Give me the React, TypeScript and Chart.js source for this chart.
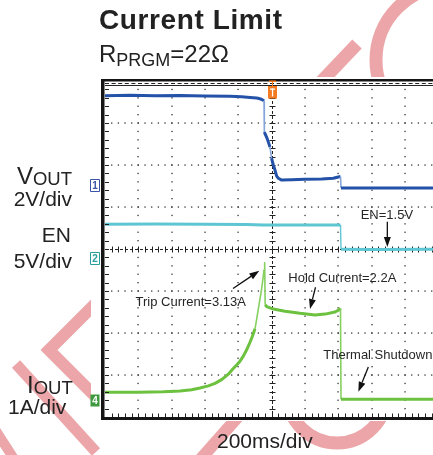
import React, { useEffect, useRef } from 'react';
import { Chart, registerables } from 'chart.js';

Chart.register(...registerables);

// ---- time base (ms), 200 ms/div, trigger at t = 0 ----
const TIME_DIV_MS = 200;
const X_MIN = -1000;
const X_MAX = 968;

// ---- VOUT (V), 2 V/div ----
const voutTime = [-1000, -850, -700, -550, -400, -250, -180, -130, -90, -65, -52, -46, -44, -28, -10, -1, 10, 20, 30, 40, 60, 120, 200, 300, 370, 400, 413, 416, 600, 800, 968];
const voutValues = [4.23, 4.25, 4.23, 4.24, 4.22, 4.2, 4.18, 4.15, 4.12, 4.07, 4.02, 3.98, 2.5, 2.21, 1.79, 1.26, 0.93, 0.69, 0.4, 0.3, 0.21, 0.23, 0.25, 0.26, 0.3, 0.36, 0.38, -0.16, -0.17, -0.16, -0.17];

// ---- EN (V), 5 V/div ----
const enTime = [-1000, -700, -400, -150, -50, 0, 200, 413, 416, 600, 968];
const enValues = [4.08, 4.1, 4.07, 4.05, 3.98, 4.0, 4.0, 4.0, 1.1, 1.08, 1.1];

// ---- IOUT (A), 1 A/div ----
const ioutTime = [-1000, -800, -650, -550, -480, -430, -380, -340, -300, -260, -232, -210, -190, -170, -150, -130, -115, -100, -88, -75, -62, -52, -46, -42, -39, -30, -10, 10, 80, 170, 260, 320, 380, 404, 413, 416, 600, 968];
const ioutValues = [0.19, 0.19, 0.2, 0.22, 0.25, 0.29, 0.34, 0.4, 0.49, 0.62, 0.75, 0.84, 0.93, 1.05, 1.2, 1.38, 1.53, 1.7, 1.98, 2.3, 2.6, 2.9, 3.1, 3.27, 2.27, 2.23, 2.2, 2.17, 2.12, 2.07, 2.03, 2.05, 2.1, 2.15, 2.19, 0.02, 0.02, 0.02];

// ---- annotation labels (data units of their channel) ----
const annotationTexts = ['Trip Current=3.13A', 'Hold Current=2.2A', 'EN=1.5V', 'Thermal Shutdown'];
const annotationAxes = ['yI', 'yI', 'yEN', 'yI'];
const annotationTextAt = [[-817, 2.25], [100, 2.82], [534, 4.7], [310, 0.99]];
const annotationArrowFrom = [[-232, 2.66], [263, 2.69], [694, 4.38], [580, 0.79]];
const annotationArrowTo = [[-74, 3.08], [230, 2.17], [694, 1.37], [520, 0.2]];

// ---- channel ground markers ----
const channelMarks = ['1', '2', '4'];
const channelAxes = ['yV', 'yEN', 'yI'];
const channelColors = ['#3a55a5', '#2a9d9d', '#3f9a3f'];
const channelFilled = [false, false, true];

const FONT = '"Liberation Sans", Arial, Helvetica, sans-serif';

const pts = (t: number[], v: number[]) => t.map((x, i) => ({ x, y: v[i] }));

const steep = (ctx: any) =>
  Math.abs(ctx.p1.y - ctx.p0.y) > 4 * Math.abs(ctx.p1.x - ctx.p0.x) && Math.abs(ctx.p1.y - ctx.p0.y) > 6;

function arrow(ctx: CanvasRenderingContext2D, x0: number, y0: number, x1: number, y1: number) {
  const ang = Math.atan2(y1 - y0, x1 - x0);
  const hl = 10, hw = 3.5;
  const bx = x1 - hl * Math.cos(ang), by = y1 - hl * Math.sin(ang);
  ctx.beginPath();
  ctx.moveTo(x0, y0);
  ctx.lineTo(bx, by);
  ctx.lineWidth = 1.3;
  ctx.stroke();
  ctx.beginPath();
  ctx.moveTo(x1, y1);
  ctx.lineTo(bx + hw * Math.sin(ang), by - hw * Math.cos(ang));
  ctx.lineTo(bx - hw * Math.sin(ang), by + hw * Math.cos(ang));
  ctx.closePath();
  ctx.fill();
}

const scopePlugin = {
  id: 'scopeGrid',
  beforeDatasetsDraw(chart: any) {
    const { ctx, chartArea: a, scales } = chart;
    const xs = scales.x, yd = scales.yDiv;
    const subX = TIME_DIV_MS / 5;
    const nSubX = Math.floor((X_MAX - X_MIN) / subX);
    ctx.save();
    ctx.fillStyle = '#ffffff';
    ctx.fillRect(a.left - 14, a.top - 4, a.right - a.left + 14, a.bottom - a.top + 8);
    ctx.fillStyle = '#333';
    for (let k = 1; X_MIN + k * TIME_DIV_MS < X_MAX; k++) {
      const t = X_MIN + k * TIME_DIV_MS;
      if (t === 0) continue;
      const px = Math.round(xs.getPixelForValue(t));
      for (let j = 1; j < 40; j++) {
        const py = yd.getPixelForValue(-4 + j * 0.2);
        ctx.fillRect(px - 0.6, py - 0.6, 1.3, 1.3);
      }
    }
    for (let d = -3; d <= 3; d++) {
      if (d === 0) continue;
      const py = Math.round(yd.getPixelForValue(d));
      for (let k = 1; k <= nSubX; k++) {
        const px = xs.getPixelForValue(X_MIN + k * subX);
        ctx.fillRect(px - 0.6, py - 0.6, 1.3, 1.3);
      }
    }
    ctx.strokeStyle = '#222';
    ctx.lineWidth = 1;
    const cx = Math.round(xs.getPixelForValue(0)) + 0.5;
    const cy = Math.round(yd.getPixelForValue(0)) + 0.5;
    ctx.setLineDash([3, 2]);
    ctx.beginPath();
    ctx.moveTo(cx, a.top);
    ctx.lineTo(cx, a.bottom);
    ctx.moveTo(a.left, cy);
    ctx.lineTo(a.right, cy);
    ctx.stroke();
    ctx.setLineDash([]);
    ctx.beginPath();
    for (let j = 1; j < 40; j++) {
      const py = Math.round(yd.getPixelForValue(-4 + j * 0.2)) + 0.5;
      ctx.moveTo(cx - 3, py);
      ctx.lineTo(cx + 3, py);
    }
    for (let k = 1; k <= nSubX; k++) {
      const px = Math.round(xs.getPixelForValue(X_MIN + k * subX)) + 0.5;
      ctx.moveTo(px, cy - 3);
      ctx.lineTo(px, cy + 3);
    }
    ctx.stroke();
    ctx.restore();
  },
  afterDatasetsDraw(chart: any) {
    const { ctx, chartArea: a, scales } = chart;
    const xs = scales.x, yd = scales.yDiv;
    const subX = TIME_DIV_MS / 5;
    const nSubX = Math.floor((X_MAX - X_MIN) / subX);
    ctx.save();
    ctx.fillStyle = '#151515';
    ctx.fillRect(a.left - 4, a.top - 2, a.right - a.left + 4, 2.5);
    ctx.fillRect(a.left - 4, a.top - 2, 3.5, a.bottom - a.top + 5);
    ctx.fillRect(a.left - 4, a.bottom, a.right - a.left + 4, 3);
    ctx.strokeStyle = '#222';
    ctx.lineWidth = 1;
    ctx.setLineDash([4, 2.6]);
    ctx.beginPath();
    ctx.moveTo(a.left, a.top + 2.5);
    ctx.lineTo(a.right, a.top + 2.5);
    ctx.stroke();
    ctx.setLineDash([]);
    ctx.beginPath();
    ctx.lineWidth = 1.2;
    ctx.moveTo(a.left, a.top + 4.5);
    ctx.lineTo(a.right, a.top + 4.5);
    ctx.stroke();
    ctx.lineWidth = 1;
    ctx.beginPath();
    for (let j = 1; j < 40; j++) {
      const py = Math.round(yd.getPixelForValue(-4 + j * 0.2)) + 0.5;
      ctx.moveTo(a.left, py);
      ctx.lineTo(a.left + 4, py);
    }
    for (let k = 1; k <= nSubX; k++) {
      const px = Math.round(xs.getPixelForValue(X_MIN + k * subX)) + 0.5;
      ctx.moveTo(px, a.bottom);
      ctx.lineTo(px, a.bottom - 3.5);
    }
    ctx.stroke();

    // trigger marker
    const tx = Math.round(xs.getPixelForValue(0)) + 0.5;
    ctx.fillStyle = '#f47b20';
    ctx.fillRect(tx - 3.5, a.top - 0.5, 7, 1.5);
    ctx.fillRect(tx - 0.5, a.top, 1, 6);
    ctx.fillRect(tx - 4.5, a.top + 5, 9, 12.5);
    ctx.fillStyle = '#ffffff';
    ctx.fillRect(tx - 2.5, a.top + 7.5, 5, 1.3);
    ctx.fillRect(tx - 0.6, a.top + 7.5, 1.3, 8);

    // channel ground markers
    ctx.font = `bold 10px ${FONT}`;
    ctx.textAlign = 'center';
    ctx.textBaseline = 'middle';
    channelMarks.forEach((m, i) => {
      const py = Math.round(scales[channelAxes[i]].getPixelForValue(0)) + 0.5;
      const x0 = a.left - 14.5, w = 9, h = 12;
      ctx.beginPath();
      ctx.rect(x0, py - h / 2, w, h);
      if (channelFilled[i]) {
        ctx.fillStyle = channelColors[i];
        ctx.fill();
        ctx.fillStyle = '#ffffff';
      } else {
        ctx.fillStyle = '#ffffff';
        ctx.fill();
        ctx.strokeStyle = channelColors[i];
        ctx.lineWidth = 1;
        ctx.stroke();
        ctx.fillStyle = channelColors[i];
      }
      ctx.fillText(m, x0 + w / 2, py + 0.5);
    });

    // annotations
    ctx.strokeStyle = '#111';
    ctx.font = `13px ${FONT}`;
    ctx.textAlign = 'left';
    ctx.textBaseline = 'alphabetic';
    annotationTexts.forEach((txt, i) => {
      const ys = scales[annotationAxes[i]];
      ctx.fillStyle = '#262626';
      ctx.fillText(txt, xs.getPixelForValue(annotationTextAt[i][0]), ys.getPixelForValue(annotationTextAt[i][1]));
      ctx.fillStyle = '#111';
      arrow(
        ctx,
        xs.getPixelForValue(annotationArrowFrom[i][0]),
        ys.getPixelForValue(annotationArrowFrom[i][1]),
        xs.getPixelForValue(annotationArrowTo[i][0]),
        ys.getPixelForValue(annotationArrowTo[i][1])
      );
    });
    ctx.restore();
  },
};

function Txt(props: { left?: number; right?: number; baseline: number; size: number; bold?: boolean; spacing?: number; children: React.ReactNode }) {
  const { left, right, baseline, size, bold, spacing, children } = props;
  const style: React.CSSProperties = {
    position: 'absolute',
    top: baseline - 0.8465 * size,
    fontSize: size,
    lineHeight: `${size}px`,
    fontWeight: bold ? 700 : 400,
    whiteSpace: 'nowrap',
    letterSpacing: spacing ?? 0,
    color: '#222',
  };
  if (right !== undefined) {
    style.left = 0;
    style.width = right;
    style.textAlign = 'right';
  } else {
    style.left = left;
  }
  return <div style={style}>{children}</div>;
}

const Sub = (p: { size: number; drop: number; children: React.ReactNode }) => (
  <span style={{ fontSize: p.size, position: 'relative', top: p.drop }}>{p.children}</span>
);

// decorative stamp behind the figure
function Watermark() {
  const s = { stroke: '#eca6a9', strokeWidth: 13, fill: 'none', strokeLinecap: 'butt' as const };
  return (
    <svg width={433} height={455} style={{ position: 'absolute', left: 0, top: 0 }}>
      <line x1={357} y1={44} x2={300} y2={104} {...s} />
      <circle cx={450} cy={60} r={74} {...s} />
      <circle cx={337} cy={393} r={50} {...s} />
      <line x1={198} y1={462} x2={244} y2={410} {...s} strokeWidth={12} />
      <polyline points="97,302 49,350 97,398" {...s} strokeWidth={12} />
      <line x1={16} y1={364} x2={96} y2={452} {...s} strokeWidth={11} />
      <line x1={-6} y1={428} x2={16} y2={462} {...s} strokeWidth={10} />
    </svg>
  );
}

export default function App() {
  const ref = useRef<HTMLCanvasElement | null>(null);
  useEffect(() => {
    if (!ref.current) return;
    const chart = new Chart(ref.current, {
      type: 'line',
      data: {
        datasets: [
          {
            label: 'EN',
            data: pts(enTime, enValues),
            yAxisID: 'yEN',
            borderColor: '#5ec6d3',
            borderWidth: 3,
            segment: { borderWidth: (c: any) => (steep(c) ? 1.4 : 3) },
          },
          {
            label: 'VOUT',
            data: pts(voutTime, voutValues),
            yAxisID: 'yV',
            borderColor: '#2352a8',
            borderWidth: 3,
            segment: {
              borderColor: (c: any) => (steep(c) ? '#86a6da' : '#2352a8'),
              borderWidth: (c: any) => (steep(c) ? 1.6 : 3),
            },
          },
          {
            label: 'IOUT',
            data: pts(ioutTime, ioutValues),
            yAxisID: 'yI',
            borderColor: '#6cc13f',
            borderWidth: 3,
            segment: {
              borderColor: (c: any) => (steep(c) ? '#86d060' : '#6cc13f'),
              borderWidth: (c: any) => (steep(c) ? 1.6 : 3),
            },
          },
        ],
      },
      options: {
        animation: false,
        responsive: false,
        events: [],
        layout: { padding: { left: 105, top: 81, right: 0, bottom: 38 } },
        elements: { point: { radius: 0 }, line: { tension: 0, borderJoinStyle: 'round' } },
        plugins: { legend: { display: false }, tooltip: { enabled: false } },
        scales: {
          x: { type: 'linear', min: X_MIN, max: X_MAX, display: false },
          yDiv: { type: 'linear', min: -4, max: 4, display: false },
          yV: { type: 'linear', min: -11.07, max: 4.93, display: false },
          yEN: { type: 'linear', min: -18.87, max: 21.13, display: false },
          yI: { type: 'linear', min: -0.4, max: 7.6, display: false },
        },
      },
      plugins: [scopePlugin],
    } as any);
    return () => chart.destroy();
  }, []);

  return (
    <div style={{ position: 'absolute', left: 0, top: 0, width: 433, height: 455, background: '#fff', fontFamily: FONT, overflow: 'hidden' }}>
      <Watermark />
      <canvas ref={ref} width={433} height={455} style={{ position: 'absolute', left: 0, top: 0, width: 433, height: 455 }} />
      <Txt left={99} baseline={30} size={28} bold spacing={0.6}>Current Limit</Txt>
      <Txt left={99} baseline={62} size={24}>
        R<Sub size={18} drop={4.5}>PRGM</Sub>=22Ω
      </Txt>
      <Txt right={72} baseline={184} size={24}>
        V<Sub size={18.5} drop={1}>OUT</Sub>
      </Txt>
      <Txt right={72} baseline={206} size={21}>2V/div</Txt>
      <Txt right={71} baseline={241.5} size={21}>EN</Txt>
      <Txt right={72} baseline={268} size={21}>5V/div</Txt>
      <Txt left={27} baseline={393} size={24}>
        I<Sub size={18.5} drop={1}>OUT</Sub>
      </Txt>
      <Txt left={8} baseline={414} size={21}>1A/div</Txt>
      <Txt left={217} baseline={448} size={21}>200ms/div</Txt>
    </div>
  );
}
